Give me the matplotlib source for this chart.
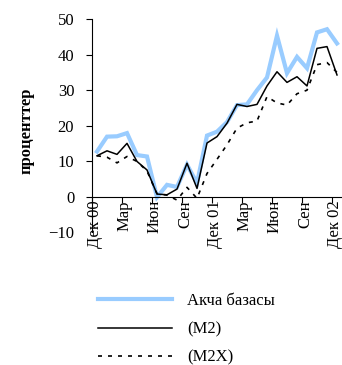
import numpy as np
import matplotlib
matplotlib.use("Agg")
import matplotlib.pyplot as plt

plt.rcParams['font.family'] = ['Liberation Serif', 'DejaVu Serif']

# месяцы: Дек 00 ... Дек 02 (25 точек)
n_months = 25
tick_idx = [0, 3, 6, 9, 12, 15, 18, 21, 24]
tick_labels = ['Дек 00', 'Мар', 'Июн', 'Сен', 'Дек 01', 'Мар', 'Июн', 'Сен', 'Дек 02']

akcha = [12.7, 16.9, 17.0, 17.9, 11.7, 11.3, -0.2, 3.3, 2.7, 9.0, 3.8, 17.2, 18.3,
         21.0, 25.8, 26.0, 30.0, 33.6, 45.4, 34.8, 39.4, 36.2, 46.3, 47.2, 43.2]
m2 = [11.5, 12.9, 11.9, 15.0, 9.9, 7.5, 0.7, 0.5, 2.1, 9.4, 2.3, 15.1, 16.9,
      20.7, 26.0, 25.4, 26.0, 31.2, 35.2, 32.2, 33.8, 31.2, 41.8, 42.3, 34.3]
m2x = [11.5, 11.1, 9.5, 11.3, 9.9, 7.2, 0.8, 0.4, -1.0, 2.6, -0.5, 6.5, 10.5,
       14.6, 19.3, 20.8, 21.3, 28.2, 26.4, 25.8, 29.0, 30.0, 37.2, 37.8, 35.0]

x = np.arange(n_months)

fig = plt.figure(figsize=(3.42, 3.65), dpi=100)
ax = fig.add_axes([92 / 342, 1 - 232 / 365, 250 / 342, (232 - 19.3) / 365])

ax.plot(x, akcha, color='#99CCFF', lw=3.0, solid_joinstyle='miter', label='Акча базасы')
ax.plot(x, m2, color='black', lw=1.1, label='(M2)')
ax.plot(x, m2x, color='black', lw=1.2, dashes=(2.4, 3.6), label='(M2X)')

ax.set_xlim(-0.5, n_months - 0.5)
ax.set_ylim(-10, 50)

# ось X проходит через ноль
ax.spines['bottom'].set_position(('data', 0))
ax.spines['top'].set_visible(False)
ax.spines['right'].set_visible(False)
ax.spines['left'].set_linewidth(0.8)
ax.spines['bottom'].set_linewidth(0.8)

ax.set_yticks([-10, 0, 10, 20, 30, 40, 50])
ax.tick_params(axis='y', direction='out', length=4.3, width=0.8, labelsize=12, pad=8.5)
ax.yaxis.get_major_ticks()[0].tick1line.set_visible(False)

ax.set_xticks([i - 0.5 for i in tick_idx])
ax.set_xticklabels([])
ax.tick_params(axis='x', which='major', direction='out', length=4.3, width=0.8)
ax.set_xticks([i - 0.2 for i in tick_idx], tick_labels, minor=True)
ax.tick_params(axis='x', which='minor', length=0, labelsize=12, pad=2.5, labelrotation=90)

fig.text(27 / 342, 1 - 131 / 365, 'проценттер', rotation=90, fontsize=12,
         fontweight='bold', ha='center', va='center')

fig.legend(loc='upper left', bbox_to_anchor=(98 / 342, 1 - 293 / 365), frameon=False,
           borderpad=0, borderaxespad=0, handlelength=4.45, handletextpad=0.9,
           labelspacing=0.74, fontsize=12)

fig.savefig('out.png', dpi=100)
